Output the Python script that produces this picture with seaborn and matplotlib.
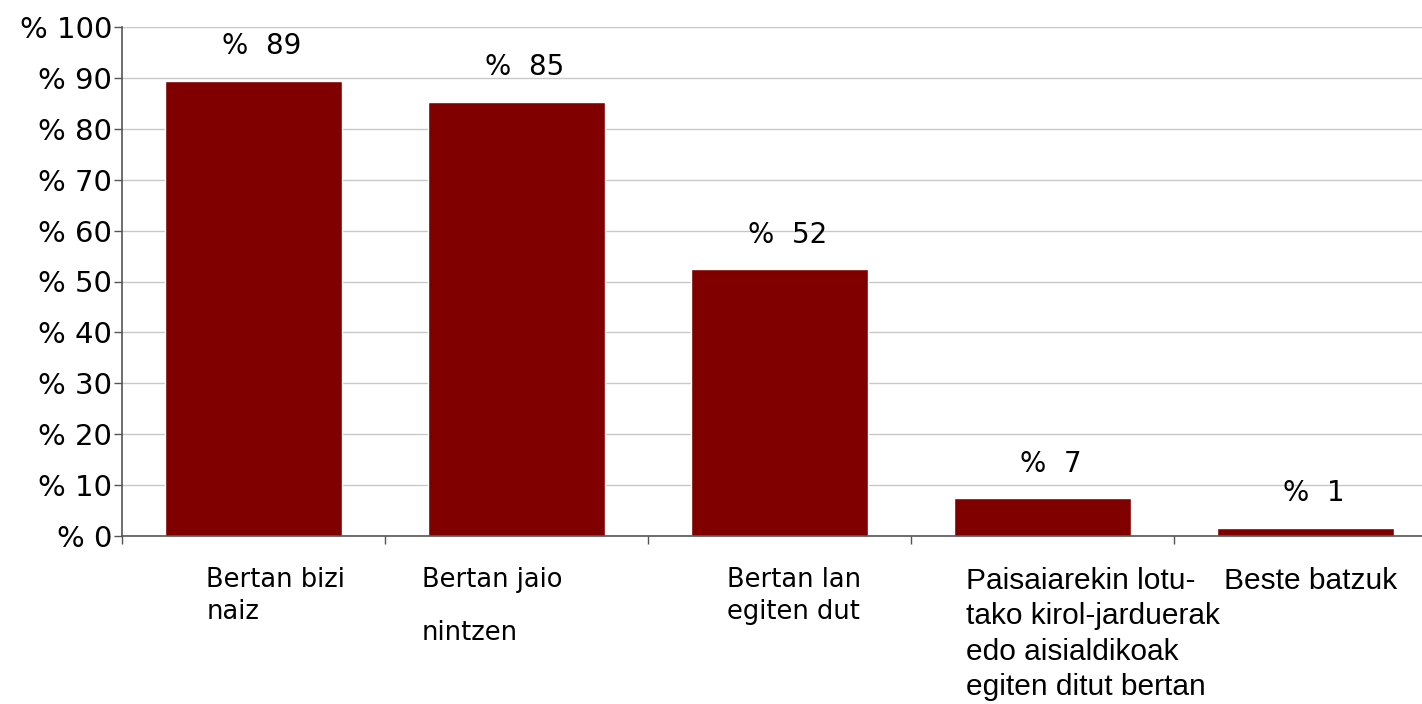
import numpy as np
import pandas as pd
import matplotlib
matplotlib.use('Agg')
import matplotlib.pyplot as plt
import seaborn as sns

#data
categories = ['Bertan bizi\nnaiz', 'Bertan jaio\nnintzen', 'Bertan lan\negiten dut',
              'Paisaiarekin lotu-\ntako kirol-jarduerak\nedo aisialdikoak\negiten ditut bertan',
              'Beste batzuk']
values = [89.4, 85.3, 52.4, 7.4, 1.6]
value_labels = [89, 85, 52, 7, 1]
y_ticks = [0, 10, 20, 30, 40, 50, 60, 70, 80, 90, 100]

df = pd.DataFrame({'cat': categories, 'val': values})

sns.set_theme(style='white')
plt.rcParams['font.family'] = ['DejaVu Sans']
plt.rcParams['text.color'] = 'black'
plt.rcParams['ytick.color'] = 'black'
plt.rcParams['xtick.color'] = 'black'

fig = plt.figure(figsize=(14.22, 7.04), dpi=100)
ax = fig.add_axes([122/1422, 168/704, 1315/1422, 509/704])

sns.barplot(data=df, x='cat', y='val', color='#800000', saturation=1,
            width=0.67, ax=ax)

ax.set_ylim(0, 100)
ax.set_xlim(-0.5, 4.5)
ax.set_yticks(y_ticks)
ax.set_yticklabels([f'% {v}' for v in y_ticks], fontsize=21)
ax.yaxis.grid(True, color='#c8c8c8', linewidth=1)
ax.set_axisbelow(True)

# ticks on the category boundaries
ax.set_xticks(np.arange(-0.5, 5, 1))
ax.set_xticklabels([])
ax.tick_params(axis='x', direction='out', length=6, color='#555555', width=1, bottom=True)
ax.tick_params(axis='y', direction='out', length=6, color='#555555', width=1, left=True, pad=1)
ax.set_xlabel('')
ax.set_ylabel('')

for s in ['top', 'right']:
    ax.spines[s].set_visible(False)
for s in ['left', 'bottom']:
    ax.spines[s].set_color('#555555')
    ax.spines[s].set_linewidth(1.2)

# value labels
for i, v in enumerate(values):
    ax.annotate(f'%  {value_labels[i]}', (i, v), xytext=(6, 25), textcoords='offset points',
                ha='center', va='center', fontsize=20)

# category labels under the axis
label_dx = [-0.18, -0.36, -0.20, -0.29, -0.31]
label_fonts = [['DejaVu Sans']] * 3 + [['Liberation Sans'], ['Liberation Sans']]
label_size = [18.5, 18.5, 18.5, 21.5, 21.5]
label_space = [1.3, 2.35, 1.3, 1.34, 1.34]
for i, lab in enumerate(categories):
    ax.text(i + label_dx[i], -0.06, lab, transform=ax.get_xaxis_transform(),
            ha='left', va='top', fontsize=label_size[i], family=label_fonts[i],
            linespacing=label_space[i])

fig.savefig('out.png', dpi=100)
